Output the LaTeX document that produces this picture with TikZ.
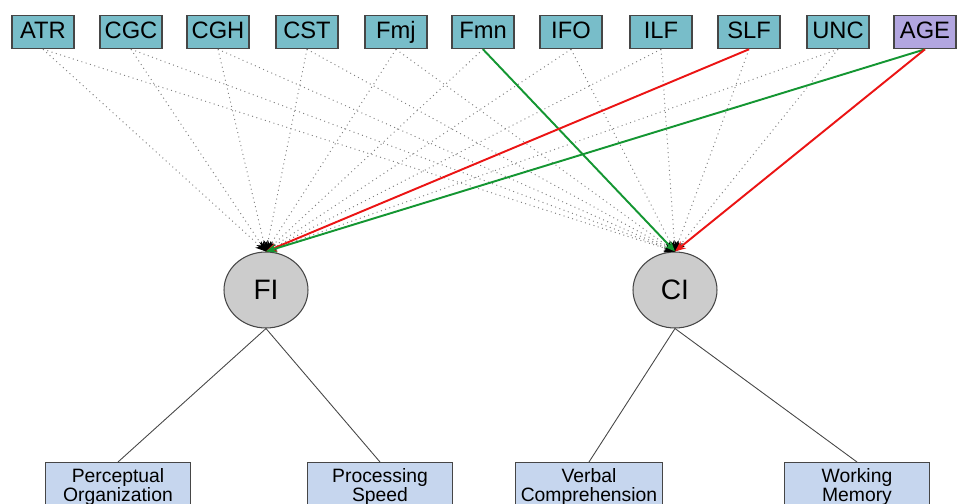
\documentclass[tikz,border=0pt]{standalone}
\usepackage{fontspec}
\setmainfont{Liberation Sans}
\usetikzlibrary{arrows.meta,shapes.geometric}
\definecolor{predfill}{RGB}{120,189,201}
\definecolor{agefill}{RGB}{178,166,224}
\definecolor{indfill}{RGB}{198,214,238}
\definecolor{latfill}{RGB}{204,204,204}
\definecolor{edge}{RGB}{70,70,70}
\definecolor{pathred}{RGB}{235,20,20}
\definecolor{pathgreen}{RGB}{20,150,50}
\tikzset{
    pred/.style =   {rectangle,
                    fill=predfill,
                    draw=edge,
                    text=black,
                    line width=0.9pt,
                    inner sep=0pt,
                    text height=9.6pt,
                    text depth=2.6pt,
                    minimum width=1.24cm,
                    minimum height=0.66cm,
                    font=\fontsize{13.5}{15}\selectfont},
    age/.style =    {pred,
                    fill=agefill},
    latent/.style = {ellipse,
                    fill=latfill,
                    draw=edge,
                    text=black,
                    line width=0.6pt,
                    inner sep=0pt,
                    minimum width=1.68cm,
                    minimum height=1.52cm,
                    font=\fontsize{16}{18}\selectfont},
    ind/.style =    {rectangle,
                    fill=indfill,
                    draw=edge,
                    text=black,
                    line width=0.6pt,
                    anchor=north,
                    align=center,
                    inner xsep=3pt,
                    inner ysep=3.5pt,
                    minimum width=2.9cm,
                    font=\fontsize{11}{10.8}\selectfont},
    null/.style =   {draw=gray,
                    dotted,
                    line width=0.55pt,
                    -{Stealth[black,length=6pt,width=5pt]}},
    effect/.style = {line width=1.1pt,
                    -{Stealth[length=6pt,width=5pt]}},
    load/.style =   {draw=edge,
                    line width=0.5pt}}

\begin{document}
\begin{tikzpicture}[x=0.02cm,y=-0.02cm]
        \useasboundingbox (0,0) rectangle (965,504);
        \clip (0,0) rectangle (965,504);
        % predictors
        \foreach \name/\px in {ATR/43,CGC/131,CGH/218,CST/307,Fmj/396,Fmn/483,IFO/571,ILF/661,SLF/749,UNC/838}
                \node[pred] (\name) at (\px,32) {\name};
        \node[age]      (AGE) at (925,32)       {AGE};
        % latent factors
        \node[latent]   (FI) at (266,290)       {FI};
        \node[latent]   (CI) at (675,290)       {CI};
        % indicators
        \node[ind]      (PO) at (118,462)       {Perceptual\\Organization};
        \node[ind]      (PS) at (380,462)       {Processing\\Speed};
        \node[ind]      (VC) at (589,462)       {Verbal\\Comprehension};
        \node[ind]      (WM) at (857,462)       {Working\\Memory};
        % non-significant paths
        \foreach \name in {ATR,CGC,CGH,CST,Fmj,Fmn,IFO,ILF,UNC}
                \draw[null] (\name.south) -- (FI.north);
        \foreach \name in {ATR,CGC,CGH,CST,Fmj,IFO,ILF,SLF,UNC}
                \draw[null] (\name.south) -- (CI.north);
        % significant paths
        \draw[effect,pathgreen] (Fmn.south) -- (CI.north);
        \draw[effect,pathred]   (SLF.south) -- (FI.north);
        \draw[effect,pathgreen] (AGE.south) -- (FI.north);
        \draw[effect,pathred]   (AGE.south) -- (CI.north);
        % loadings
        \draw[load] (FI.south) -- (PO.north);
        \draw[load] (FI.south) -- (PS.north);
        \draw[load] (CI.south) -- (VC.north);
        \draw[load] (CI.south) -- (WM.north);
\end{tikzpicture}
\end{document}
